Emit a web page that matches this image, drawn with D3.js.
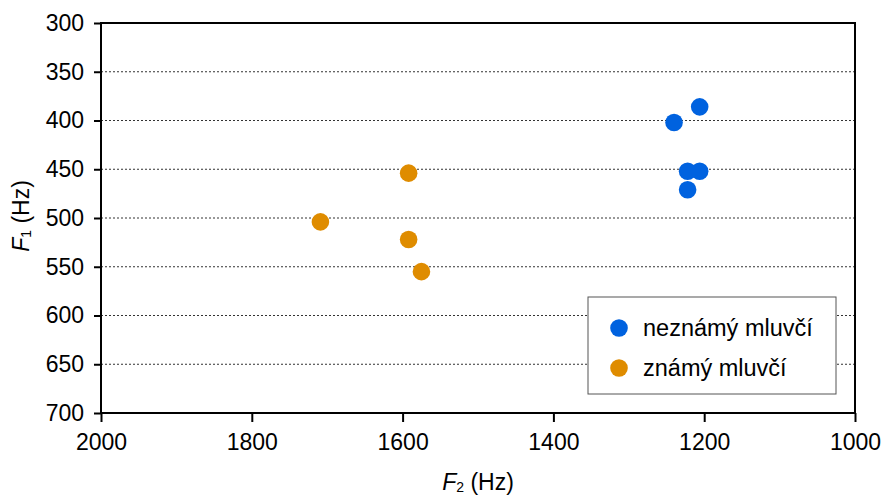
<!DOCTYPE html>
<html>
<head>
<meta charset="utf-8">
<script src="https://cdn.jsdelivr.net/npm/d3@7"></script>
<style>
  body { margin: 0; background: #fff; }
  text { font-family: "Liberation Sans", Arial, sans-serif; }
</style>
</head>
<body>
<main></main>
<script>
// F2 / F1 values (Hz)
const unknownF2 = [1206, 1240, 1222, 1206, 1222];
const unknownF1 = [386, 402, 452, 452, 471];
const knownF2 = [1592, 1709, 1592, 1575];
const knownF1 = [454, 504, 522, 555];

const seriesNames = ["neznámý mluvčí", "známý mluvčí"];
const seriesColors = ["#0062df", "#df8c00"];

const xTicks = [2000, 1800, 1600, 1400, 1200, 1000];
const yTicks = [300, 350, 400, 450, 500, 550, 600, 650, 700];

const W = 884, H = 497;
const margin = { left: 101, top: 23, right: 29, bottom: 84 };
const width = W - margin.left - margin.right;
const height = H - margin.top - margin.bottom;
const fs = 23;

const svg = d3.select("main").append("svg")
              .attr("width", W)
              .attr("height", H);

const g = svg.append("g").attr("transform", `translate(${margin.left},${margin.top})`);

const x = d3.scaleLinear().domain([2000, 1000]).range([0, width]);
const y = d3.scaleLinear().domain([300, 700]).range([0, height]);

// dotted grid lines
g.append("g").selectAll("line")
 .data(yTicks.slice(1, -1))
 .enter().append("line")
 .attr("x1", 0).attr("x2", width)
 .attr("y1", d => y(d)).attr("y2", d => y(d))
 .attr("stroke", "#333")
 .attr("stroke-width", 1)
 .attr("stroke-dasharray", "2,2");

// axes
const yAxis = g.append("g")
  .call(d3.axisLeft(y).tickValues(yTicks).tickFormat(d3.format("d"))
          .tickSize(7).tickSizeOuter(0).tickPadding(10));
const xAxis = g.append("g").attr("transform", `translate(0,${height})`)
  .call(d3.axisBottom(x).tickValues(xTicks).tickFormat(d3.format("d"))
          .tickSize(9).tickSizeOuter(0).tickPadding(12));

[xAxis, yAxis].forEach(a => {
  a.select(".domain").remove();
  a.selectAll(".tick line").attr("stroke", "#000").attr("stroke-width", 2);
  a.selectAll(".tick text").attr("font-size", fs).attr("fill", "#000")
   .style("font-family", "'Liberation Sans', Arial, sans-serif");
});

// frame
g.append("rect")
 .attr("x", 0).attr("y", 0)
 .attr("width", width).attr("height", height)
 .attr("fill", "none")
 .attr("stroke", "#000")
 .attr("stroke-width", 2);

// points
const points = [
  { f2: unknownF2, f1: unknownF1, color: seriesColors[0] },
  { f2: knownF2, f1: knownF1, color: seriesColors[1] }
];
points.forEach(s => {
  g.append("g").selectAll("circle")
   .data(d3.range(s.f2.length))
   .enter().append("circle")
   .attr("cx", i => x(s.f2[i]))
   .attr("cy", i => y(s.f1[i]))
   .attr("r", 8.8)
   .attr("fill", s.color);
});

// legend
const legend = svg.append("g").attr("transform", "translate(588,297)");
legend.append("rect")
      .attr("width", 248).attr("height", 97)
      .attr("fill", "#fff")
      .attr("stroke", "#555")
      .attr("stroke-width", 1);
seriesNames.forEach((name, i) => {
  legend.append("circle")
        .attr("cx", 31).attr("cy", 31 + i * 40)
        .attr("r", 8.8)
        .attr("fill", seriesColors[i]);
  legend.append("text")
        .attr("x", 55).attr("y", 31 + i * 40 + 8)
        .attr("font-size", 23.5)
        .text(name);
});

// axis titles
const xTitle = svg.append("text")
  .attr("x", margin.left + width / 2).attr("y", 490)
  .attr("text-anchor", "middle")
  .attr("font-size", fs);
xTitle.append("tspan").attr("font-style", "italic").text("F");
xTitle.append("tspan").attr("font-size", 14).attr("dy", 2).text("2");
xTitle.append("tspan").attr("dy", -2).text(" (Hz)");

const yTitle = svg.append("text")
  .attr("transform", `translate(29,${margin.top + height / 2 - 2}) rotate(-90)`)
  .attr("text-anchor", "middle")
  .attr("font-size", fs);
yTitle.append("tspan").attr("font-style", "italic").text("F");
yTitle.append("tspan").attr("font-size", 14).attr("dy", 2).text("1");
yTitle.append("tspan").attr("dy", -2).text(" (Hz)");
</script>
</body>
</html>
